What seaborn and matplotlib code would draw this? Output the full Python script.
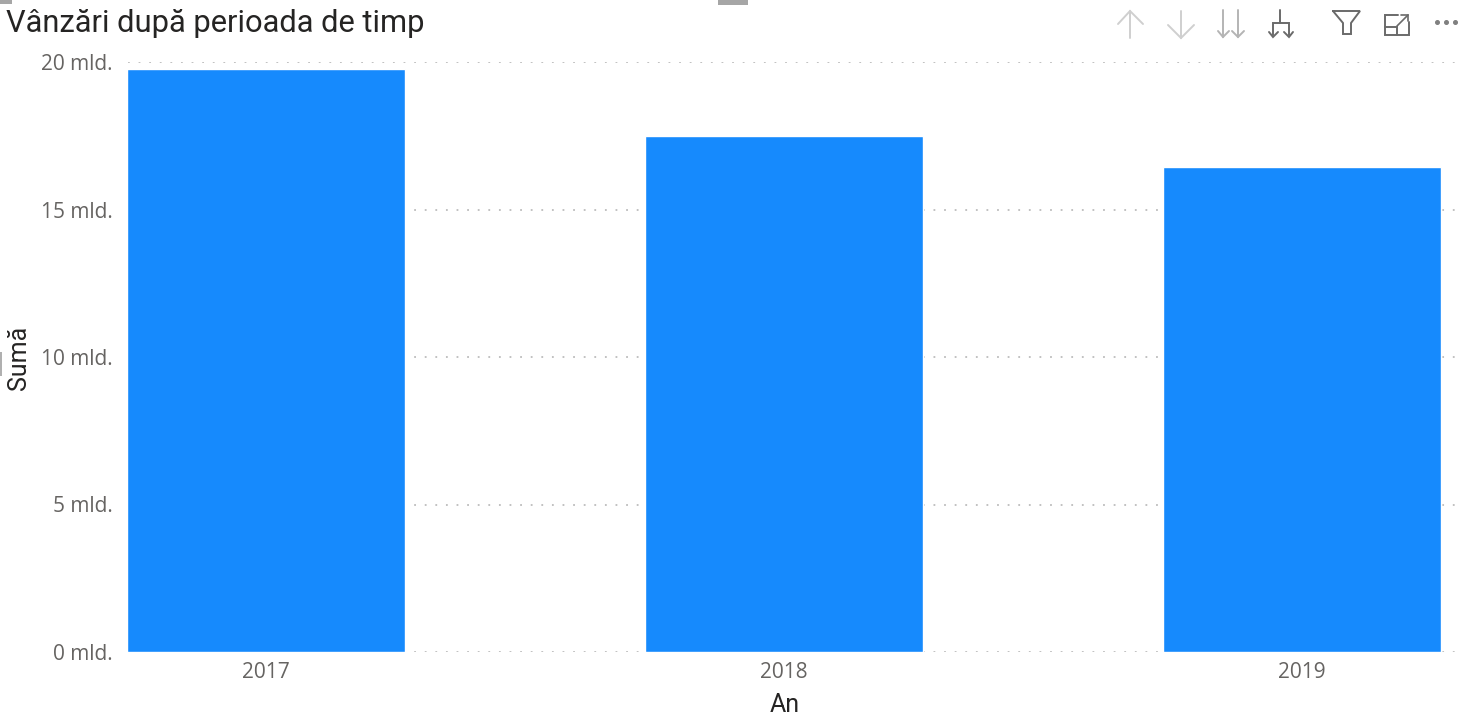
import seaborn as sns
import pandas as pd
import matplotlib.pyplot as plt
from matplotlib.lines import Line2D
from matplotlib.patches import Rectangle

ani = ['2017', '2018', '2019']
suma = [19.76, 17.49, 16.43]
y_ticks = [0, 5, 10, 15, 20]
y_labels = ['0 mld.', '5 mld.', '10 mld.', '15 mld.', '20 mld.']

W, H = 1458, 720
sns.set_theme(style='white')
plt.rcParams['font.family'] = ['Open Sans', 'DejaVu Sans']

fig = plt.figure(figsize=(W / 100, H / 100), dpi=100)
ax = fig.add_axes([128 / W, 1 - 652 / H, (W - 128) / W, 590 / H])

df = pd.DataFrame({'An': ani, 'Suma': suma})
sns.barplot(data=df, x='An', y='Suma', color='#168AFD', saturation=1, width=0.535, ax=ax, zorder=3)

ax.set_xlim(-0.2664, 2.301)
ax.set_ylim(0, 20)
ax.set_yticks(y_ticks)
ax.set_yticklabels(y_labels)
ax.tick_params(axis='both', length=0, labelsize=15, labelcolor='#666462')
ax.tick_params(axis='y', pad=11)
ax.tick_params(axis='x', pad=7)
ax.yaxis.grid(True, color='#BCBCBC', linewidth=1.3, linestyle=(0, (1, 4.87)))
ax.xaxis.grid(False)
ax.set_axisbelow(True)
sns.despine(ax=ax, left=True, bottom=True)
ax.set_xlabel('')
ax.set_ylabel('')

# axis titles and chart title
px = lambda x, y: (x / W, 1 - y / H)
fig.text(*px(785, 705), 'An', fontsize=18, color='#252423', ha='center', va='center',
         family=['Roboto', 'DejaVu Sans'])
fig.text(*px(19, 358), 'Sumă', fontsize=18, color='#252423', ha='center', va='center', rotation=90,
         family=['Roboto', 'DejaVu Sans'])
fig.text(*px(6, 23), 'Vânzări după perioada de timp', fontsize=22.2, color='#252423',
         ha='left', va='center', family=['Roboto', 'DejaVu Sans'])


# toolbar icons, pixel positions
def seg(points, color, lw=1.4):
    xs = [p[0] / W for p in points]
    ys = [1 - p[1] / H for p in points]
    fig.add_artist(Line2D(xs, ys, color=color, lw=lw, solid_capstyle='round', solid_joinstyle='miter'))


light = '#CFCFCF'
dark = '#6A6A6A'
# up
seg([(1130, 11), (1130, 38)], light)
seg([(1118, 24), (1130, 11), (1143, 24)], light)
# down
seg([(1181, 11), (1181, 38)], light)
seg([(1168, 25), (1181, 38), (1194, 25)], light)
# double down
seg([(1223, 10), (1223, 37)], '#B4B4B4')
seg([(1218, 31), (1223, 37), (1229, 31)], '#B4B4B4')
seg([(1238, 10), (1238, 37)], '#B4B4B4')
seg([(1232, 31), (1238, 37), (1244, 31)], '#B4B4B4')
# expand hierarchy
seg([(1280, 10), (1280, 23)], dark)
seg([(1273, 35), (1273, 23), (1289, 23), (1289, 35)], dark)
seg([(1269, 32), (1273, 37), (1278, 32)], dark)
seg([(1284, 32), (1289, 37), (1293, 32)], dark)
# filter
seg([(1333, 11), (1360, 11), (1351, 23), (1351, 34), (1343, 34), (1343, 23), (1333, 11)], dark)
# focus mode
seg([(1398, 15), (1385, 15), (1385, 35), (1409, 35), (1409, 22)], dark)
seg([(1385, 27), (1397, 27), (1397, 35)], dark)
seg([(1397, 26), (1408, 15)], dark, 1.2)
seg([(1401, 15), (1408, 15), (1408, 21)], dark, 1.2)
# more dots
for dx in [1437, 1446, 1455]:
    fig.add_artist(Line2D([dx / W], [1 - 22 / H], marker='o', ms=2.6, color='#808080', lw=0))

# resize handles left over at the frame edge
fig.add_artist(Rectangle((0, 1 - 4 / H), 12 / W, 4 / H, color='#A6A6A6', lw=0))
fig.add_artist(Rectangle((718 / W, 1 - 5 / H), 30 / W, 5 / H, color='#A6A6A6', lw=0))
fig.add_artist(Rectangle((0, 1 - 376 / H), 1.5 / W, 24 / H, color='#B0B0B0', lw=0))

fig.savefig('out.png', dpi=100)
